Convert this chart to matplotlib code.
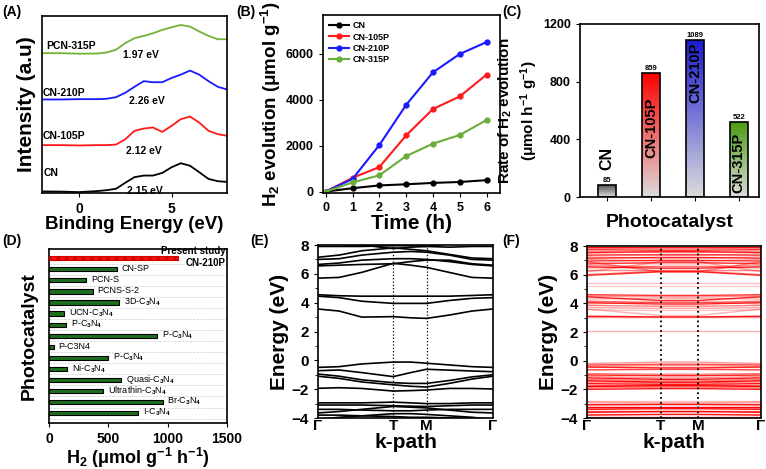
import numpy as np
import matplotlib
matplotlib.use("Agg")
import matplotlib.pyplot as plt
from matplotlib.colors import LinearSegmentedColormap

plt.rcParams['font.family'] = ['Liberation Sans', 'DejaVu Sans']
plt.rcParams['font.weight'] = 'bold'
plt.rcParams['axes.labelweight'] = 'bold'
plt.rcParams['mathtext.fontset'] = 'custom'
plt.rcParams['mathtext.rm'] = 'Liberation Sans'
plt.rcParams['mathtext.bf'] = 'Liberation Sans:bold'
plt.rcParams['mathtext.it'] = 'Liberation Sans:italic'
plt.rcParams['mathtext.default'] = 'bf'
plt.rcParams['axes.linewidth'] = 1.2

# ---------------- (A) spectra ----------------
a_energy = [-2, -1, 0, 1, 1.5, 2, 2.5, 3, 3.5, 4, 4.5, 5, 5.5, 6, 6.5, 7, 7.5, 8]
a_cn = [0.04, 0.03, 0.0, 0.06, 0.11, 0.19, 0.53, 0.85, 0.94, 0.94, 1.09, 1.41, 1.64, 1.5, 1.13, 0.75, 0.62, 0.58]
a_105 = [2.67, 2.67, 2.65, 2.67, 2.67, 2.7, 3.0, 3.48, 3.61, 3.67, 3.42, 3.76, 4.14, 4.29, 3.95, 3.48, 3.29, 3.2]
a_210 = [5.26, 5.26, 5.28, 5.28, 5.3, 5.39, 5.64, 5.98, 6.3, 6.24, 6.24, 6.48, 6.67, 6.9, 6.67, 6.3, 5.98, 5.83]
a_315 = [7.89, 7.89, 7.86, 7.87, 7.93, 8.08, 8.46, 8.74, 8.87, 9.02, 9.21, 9.36, 9.49, 9.4, 9.12, 8.87, 8.68, 8.68]
a_names = ["CN", "CN-105P", "CN-210P", "PCN-315P"]
a_gaps = ["2.15 eV", "2.12 eV", "2.26 eV", "1.97 eV"]

# ---------------- (B) H2 evolution vs time ----------------
b_time = [0, 1, 2, 3, 4, 5, 6]
b_cn = [0, 150, 270, 320, 380, 420, 500]
b_105 = [0, 600, 1070, 2450, 3600, 4150, 5100]
b_210 = [0, 550, 2030, 3780, 5200, 6000, 6520]
b_315 = [0, 400, 710, 1550, 2090, 2470, 3120]
b_names = ["CN", "CN-105P", "CN-210P", "CN-315P"]

# ---------------- (C) rates ----------------
c_names = ["CN", "CN-105P", "CN-210P", "CN-315P"]
c_rates = [85, 859, 1089, 522]

# ---------------- (D) comparison ----------------
d_labels = ["CN-SP", "PCN-S", "PCNS-S-2", "3D-C$\\mathrm{_3}$N$\\mathrm{_4}$",
            "UCN-C$\\mathrm{_3}$N$\\mathrm{_4}$", "P-C$\\mathrm{_3}$N$\\mathrm{_4}$",
            "P-C$\\mathrm{_3}$N$\\mathrm{_4}$", "P-C3N4", "P-C$\\mathrm{_3}$N$\\mathrm{_4}$",
            "Ni-C$\\mathrm{_3}$N$\\mathrm{_4}$", "Quasi-C$\\mathrm{_3}$N$\\mathrm{_4}$",
            "Ultrathin-C$\\mathrm{_3}$N$\\mathrm{_4}$", "Br-C$\\mathrm{_3}$N$\\mathrm{_4}$",
            "I-C$\\mathrm{_3}$N$\\mathrm{_4}$"]
d_values = [570, 312, 368, 593, 129, 143, 913, 42, 500, 154, 607, 458, 958, 753]
d_present = 1089

# ---------------- (E) band structure: energies at k points ----------------
e_k = [0, 0.12, 0.25, 0.43, 0.53, 0.62, 0.75, 0.88, 1.0]
e_bands = [
    [8.1, 8.05, 8.0, 7.75, 7.85, 7.9, 8.1, 8.2, 8.2],
    [7.15, 7.3, 7.6, 7.8, 7.7, 7.6, 7.35, 7.1, 7.05],
    [7.0, 7.05, 7.3, 7.5, 7.55, 7.5, 7.3, 7.0, 6.95],
    [6.65, 6.75, 6.95, 7.05, 7.05, 7.0, 6.85, 6.65, 6.55],
    [6.55, 6.6, 6.65, 6.7, 6.85, 6.95, 6.95, 6.7, 6.6],
    [7.9, 7.9, 7.9, 7.95, 7.95, 7.9, 7.85, 7.9, 7.9],
    [5.7, 5.75, 6.1, 6.73, 6.6, 6.45, 6.1, 5.75, 5.7],
    [4.55, 4.48, 4.45, 4.45, 4.45, 4.45, 4.45, 4.5, 4.55],
    [4.45, 4.35, 4.1, 3.95, 3.95, 3.95, 4.15, 4.3, 4.35],
    [3.56, 3.42, 3.0, 3.03, 2.95, 2.91, 3.14, 3.42, 3.56],
    [-0.49, -0.44, -0.25, -0.12, -0.12, -0.2, -0.32, -0.44, -0.49],
    [-0.72, -0.67, -0.85, -1.13, -0.85, -0.62, -0.68, -0.74, -0.79],
    [-0.95, -1.1, -1.35, -1.55, -1.6, -1.6, -1.4, -1.15, -1.0],
    [-1.1, -1.25, -1.5, -1.7, -1.8, -1.85, -1.6, -1.3, -1.1],
    [-1.94, -1.9, -1.95, -2.13, -2.1, -2.06, -1.95, -1.95, -1.99],
    [-2.95, -2.95, -2.95, -2.9, -2.95, -3.0, -3.0, -2.95, -2.95],
    [-3.1, -3.1, -3.1, -3.15, -3.18, -3.2, -3.15, -3.1, -3.1],
    [-3.65, -3.55, -3.4, -3.2, -3.25, -3.3, -3.45, -3.6, -3.65],
    [-3.4, -3.4, -3.45, -3.5, -3.5, -3.45, -3.4, -3.4, -3.4],
    [-4.1, -3.95, -3.85, -3.7, -3.7, -3.75, -3.85, -3.95, -4.1],
    [-3.8, -3.8, -3.85, -3.9, -3.95, -3.95, -4.0, -4.05, -4.1],
]
e_kT, e_kM = 0.43, 0.62

# ---------------- (F) unfolded bands: (E at Gamma, E between T and M, shade) ----------------
f_kT, f_kM = 0.425, 0.64
f_bands = [
    (7.95, 7.95, 0.9), (7.85, 7.8, 0.45), (7.75, 7.7, 0.8), (7.65, 7.55, 0.3), (7.55, 7.6, 0.9),
    (7.45, 7.35, 0.4), (7.35, 7.4, 0.7), (7.25, 7.15, 0.3), (7.15, 7.2, 0.85), (7.05, 6.95, 0.4),
    (6.95, 7.0, 0.75), (6.85, 6.75, 0.3), (6.75, 6.85, 0.7), (6.65, 6.55, 0.4), (6.55, 6.45, 0.85),
    (6.45, 6.6, 0.3), (6.35, 6.35, 0.5), (6.9, 6.2, 0.45), (6.2, 6.9, 0.35), (6.0, 6.25, 0.5),
    (5.95, 6.2, 0.8), (5.4, 5.4, 0.25), (5.2, 5.2, 0.2),
    (4.6, 4.55, 0.8), (4.5, 4.45, 0.4), (4.45, 4.2, 0.85), (4.3, 4.35, 0.3), (4.15, 4.05, 0.6),
    (4.05, 3.95, 0.85), (3.95, 4.1, 0.3), (3.85, 3.8, 0.5), (3.7, 3.65, 0.35), (3.55, 3.5, 0.25),
    (3.6, 3.15, 0.3), (3.1, 3.05, 0.9), (3.05, 3.05, 0.4),
    (2.05, 2.05, 0.3),
    (-0.2, -0.1, 0.4), (-0.3, -0.25, 0.7), (-0.4, -0.35, 0.4), (-0.45, -0.5, 0.85),
    (-0.55, -0.55, 0.35), (-0.65, -0.6, 0.6),
    (-0.9, -0.95, 0.5), (-1.0, -1.05, 0.85), (-1.1, -1.2, 0.4), (-1.2, -1.3, 0.9), (-1.3, -1.4, 0.5),
    (-1.4, -1.5, 1.0), (-1.5, -1.55, 0.4), (-1.6, -1.65, 0.9), (-1.7, -1.7, 0.6), (-1.8, -1.75, 1.0),
    (-1.9, -1.85, 0.5), (-2.0, -1.95, 0.9),
    (-2.8, -2.8, 0.25), (-2.9, -2.95, 0.35), (-3.0, -3.0, 0.85), (-3.1, -3.05, 0.5), (-3.2, -3.2, 1.0),
    (-3.3, -3.3, 0.4), (-3.4, -3.35, 0.85), (-3.5, -3.5, 0.5), (-3.6, -3.55, 1.0), (-3.7, -3.7, 0.4),
    (-3.8, -3.75, 0.85), (-3.9, -3.9, 0.6),
]

W, H = 766, 469
fig = plt.figure(figsize=(W / 100, H / 100), dpi=100)


def box(l, t, r, b):
    return [l / W, 1 - b / H, (r - l) / W, (b - t) / H]


# ---------- A ----------
axA = fig.add_axes(box(42, 16, 227, 193))
colsA = ['black', '#ff1a1a', '#1a1aff', '#72b236']
for ys, c in zip([a_cn, a_105, a_210, a_315], colsA):
    axA.plot(a_energy, ys, color=c, lw=1.3)
name_pos = [(-1.9, 1.09), (-1.98, 3.16), (-1.98, 5.6), (-1.76, 8.27)]
gap_pos = [(2.6, 0.09), (2.56, 2.35), (2.7, 5.2), (2.4, 7.76)]
for n, g, p1, p2 in zip(a_names, a_gaps, name_pos, gap_pos):
    axA.text(p1[0], p1[1], n, fontsize=7.5, va='center')
    axA.text(p2[0], p2[1], g, fontsize=7.5, va='center')
axA.set_xlim(-2, 8)
axA.set_ylim(-0.05, 10)
axA.set_xticks([0, 5])
axA.set_yticks([])
axA.tick_params(labelsize=10, length=3)
axA.set_xlabel("Binding Energy (eV)", fontsize=13.5, labelpad=0)
axA.set_ylabel("Intensity (a.u)", fontsize=15, labelpad=4)

# ---------- B ----------
axB = fig.add_axes(box(323, 15, 500, 193))
colsB = ['black', '#ff1a1a', '#1a1aff', '#6aad3a']
for ys, c, n in zip([b_cn, b_105, b_210, b_315], colsB, b_names):
    axB.plot(b_time, ys, color=c, lw=1.5, marker='o', ms=3.5, label=n)
axB.set_xlim(-0.1, 6.5)
axB.set_ylim(-60, 7700)
axB.set_xticks(range(7))
axB.set_yticks([0, 2000, 4000, 6000])
axB.tick_params(labelsize=9, length=3, direction='out')
axB.legend(loc='upper left', frameon=False, fontsize=6.5, handlelength=2.2,
           borderaxespad=0.3, labelspacing=0.25, handletextpad=0.4)
axB.set_xlabel("Time (h)", fontsize=15, labelpad=0)
axB.set_ylabel("H$_2$ evolution (μmol g$^{-1}$)", fontsize=13.5, labelpad=2)

# ---------- C ----------
axC = fig.add_axes(box(580, 24, 759, 197))
topsC = ['#4a4a4a', '#ff0000', '#1a1ad0', '#4a9a10']
bars = axC.bar(range(4), c_rates, width=0.4, color='none', edgecolor='black', lw=1.2, zorder=3)
grad = np.linspace(0, 1, 256).reshape(-1, 1)
for p, c in zip(bars, topsC):
    cm = LinearSegmentedColormap.from_list('g', ['#dcdcdc', c])
    x0, y0 = p.get_x(), p.get_y()
    im = axC.imshow(grad, cmap=cm, origin='lower', aspect='auto',
                    extent=[x0, x0 + p.get_width(), y0, y0 + p.get_height()], zorder=2)
    im.set_clip_path(p)
for i, (n, v) in enumerate(zip(c_names, c_rates)):
    axC.text(i, v + 8, str(v), ha='center', va='bottom', fontsize=5.5)
label_y = [270, 480, 860, 235]
label_fs = [11.5, 10.5, 10.5, 10.5]
for i, (n, y, fs) in enumerate(zip(c_names, label_y, label_fs)):
    axC.text(i, y, n, rotation=90, ha='center', va='center', fontsize=fs, zorder=4)
axC.set_xlim(-0.62, 3.46)
axC.set_ylim(0, 1200)
axC.set_xticks(range(4))
axC.set_xticklabels([''] * 4)
axC.set_yticks([0, 400, 800, 1200])
axC.tick_params(labelsize=9, length=3)
axC.set_xlabel("Photocatalyst", fontsize=14, labelpad=6)
axC.set_ylabel("Rate of H$_2$ evolution\n(μmol h$^{-1}$ g$^{-1}$)", fontsize=11, labelpad=2,
               linespacing=1.3)

# ---------- D ----------
axD = fig.add_axes(box(49, 249, 227, 423))
pos = np.arange(1, len(d_values) + 1)
axD.barh(pos, d_values, height=0.38, color='#1d6e1d', edgecolor='black', lw=0.8, zorder=3)
axD.barh([0], [d_present], height=0.38, color='#ff1010', edgecolor='#cc0000', lw=0.8,
         hatch='xxxx', zorder=3)
for y, v, lab in zip(pos, d_values, d_labels):
    axD.text(v + 40, y - 0.05, lab, fontsize=6.5, fontweight='normal', va='center')
axD.text(1490, -0.22, "Present study", ha='right', va='bottom', fontsize=7)
axD.text(1490, 0.45, "CN-210P", ha='right', va='center', fontsize=7)
for y in np.arange(0.5, len(d_values) + 0.6, 1):
    axD.axhline(y, color='#cfcfcf', lw=0.5, ls='--', zorder=1)
axD.set_xlim(0, 1500)
axD.set_ylim(14.9, -0.84)
axD.set_yticks([])
axD.set_xticks([0, 500, 1000, 1500])
axD.tick_params(labelsize=10, length=3)
axD.set_xlabel("H$_2$ (μmol g$^{-1}$ h$^{-1}$)", fontsize=13, labelpad=0)
axD.set_ylabel("Photocatalyst", fontsize=14, labelpad=8)

# ---------- E ----------
axE = fig.add_axes(box(318, 245, 493, 418))
for b in e_bands:
    axE.plot(e_k, b, color='black', lw=1.2)
for k in (e_kT, e_kM):
    axE.axvline(k, color='black', lw=0.9, ls=':')
axE.set_xlim(0, 1)
axE.set_ylim(-4, 8)

# ---------- F ----------
axF = fig.add_axes(box(587, 246, 761, 418))
for eg, em, s in f_bands:
    axF.plot([0, f_kT, f_kM, 1], [eg, em, em, eg], color='red', alpha=s, lw=1.0)
for k in (f_kT, f_kM):
    axF.axvline(k, color='black', lw=1.3, ls=':')
axF.set_xlim(0, 1)
axF.set_ylim(-4, 8)

for ax, kT, kM in ((axE, e_kT, e_kM), (axF, f_kT, f_kM)):
    ax.set_xticks([0, kT, kM, 1])
    ax.set_xticklabels(["Γ", "T", "M", "Γ"])
    ax.get_xticklabels()[1].set_fontsize(8)
    ax.set_yticks([-4, -2, 0, 2, 4, 6, 8])
    ax.set_yticks([-3, -1, 1, 3, 5, 7], minor=True)
    ax.tick_params(axis='y', labelsize=11, length=3)
    ax.tick_params(axis='x', labelsize=11, length=0, pad=1)
    ax.set_xlabel("k-path", fontsize=15, labelpad=0)
    ax.set_ylabel("Energy (eV)", fontsize=15, labelpad=2)

# panel letters
for lab, x, y in [("(A)", 2, 12), ("(B)", 236, 12), ("(C)", 502, 12),
                  ("(D)", 2, 241), ("(E)", 250, 241), ("(F)", 502, 241)]:
    fig.text(x / W, 1 - y / H, lab, fontsize=10, va='center', ha='left')

fig.savefig("out.png", dpi=100)
